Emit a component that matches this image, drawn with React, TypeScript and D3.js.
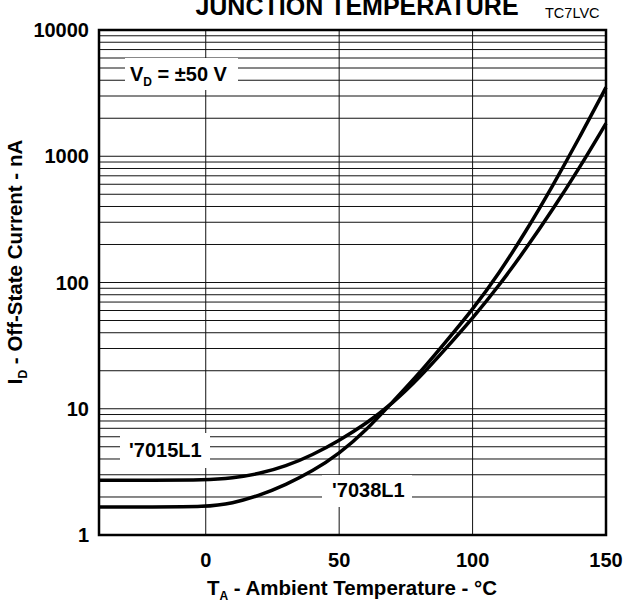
import React from 'react';
import * as d3 from 'd3';

// ambient temperature (°C) and off-state current (nA)
const temps = [-40, -20, 0, 10, 20, 30, 40, 50, 60, 70, 80, 90, 100, 110, 120, 130, 140, 150];
const id7015 = [2.72, 2.72, 2.72, 2.82, 3.05, 3.5, 4.3, 5.6, 7.6, 11.0, 17.5, 30, 52, 95, 185, 377, 805, 1820];
const id7038 = [1.67, 1.67, 1.67, 1.78, 2.05, 2.5, 3.2, 4.4, 6.7, 11.3, 19, 34, 61, 119, 254, 582, 1396, 3510];

const xTicks = [0, 50, 100, 150];
const yTicks = [1, 10, 100, 1000, 10000];
const xGrid = [0, 50, 100];

const FONT = '"Liberation Sans", Arial, Helvetica, sans-serif';

const left = 99;
const right = 606;
const top = 30;
const bottom = 535;

export default function App() {
  const x = d3.scaleLinear().domain([-40, 150]).range([left, right]);
  const y = d3.scaleLog().domain([1, 10000]).range([bottom, top]);

  const line = d3.line<[number, number]>()
    .x(d => x(d[0]))
    .y(d => y(d[1]))
    .curve(d3.curveBasis);

  const series = [id7015, id7038].map(vals => temps.map((t, i) => [t, vals[i]] as [number, number]));

  // horizontal grid: 1..9 in every decade
  const hGrid: number[] = [];
  for (let k = 0; k < 4; k++) {
    for (let m = 1; m <= 9; m++) {
      const v = m * Math.pow(10, k);
      if (v > 1) hGrid.push(v);
    }
  }

  const boxes = [
    { x0: 125, y0: 58, x1: 238, y1: 90 },
    { x0: 120, y0: 433, x1: 210, y1: 468 },
    { x0: 322, y0: 475, x1: 412, y1: 507 },
  ];

  return (
    <svg
      width={628}
      height={603}
      style={{ position: 'absolute', left: 0, top: 0, background: '#fff' }}
      fontFamily={FONT}
    >
      <rect x={0} y={0} width={628} height={603} fill="#fff" />

      <g stroke="#111" strokeWidth={1} fill="none">
        {hGrid.map(v => (
          <line key={'h' + v} x1={left} x2={right} y1={y(v)} y2={y(v)} />
        ))}
        {xGrid.map(v => (
          <line key={'v' + v} x1={x(v)} x2={x(v)} y1={top} y2={bottom} />
        ))}
      </g>

      {boxes.map((b, i) => (
        <rect key={'b' + i} x={b.x0} y={b.y0} width={b.x1 - b.x0} height={b.y1 - b.y0} fill="#fff" />
      ))}

      <g fill="none" stroke="#000" strokeWidth={3.5} strokeLinejoin="round">
        {series.map((s, i) => (
          <path key={'s' + i} d={line(s) || ''} />
        ))}
      </g>

      <rect x={left} y={top} width={right - left} height={bottom - top} fill="none" stroke="#000" strokeWidth={2.5} />

      <g fontWeight="bold" fontSize={20} fill="#000">
        <text x={130} y={81}>
          V<tspan fontSize={12} dy={5}>D</tspan><tspan dy={-5}> = ±50 V</tspan>
        </text>
        <text x={129} y={457}>'7015L1</text>
        <text x={332} y={497}>'7038L1</text>
      </g>

      <g fontWeight="bold" fontSize={20} fill="#000">
        {yTicks.map(v => (
          <text key={'yt' + v} x={89} y={y(v)} dy="0.36em" textAnchor="end">{v}</text>
        ))}
        {xTicks.map(v => (
          <text key={'xt' + v} x={x(v)} y={567} textAnchor="middle">{v}</text>
        ))}
      </g>

      <g fontWeight="bold" fontSize={20.5} fill="#000">
        <text x={352} y={595} textAnchor="middle">
          T<tspan fontSize={12} dy={5}>A</tspan><tspan dy={-5}> - Ambient Temperature - °C</tspan>
        </text>
        <text transform="translate(22,262) rotate(-90)" textAnchor="middle">
          I<tspan fontSize={12} dy={5}>D</tspan><tspan dy={-5}> - Off-State Current - nA</tspan>
        </text>
      </g>

      <text x={357} y={15} textAnchor="middle" fontWeight="bold" fontSize={25}>JUNCTION TEMPERATURE</text>
      <text x={545} y={18} fontSize={14.5}>TC7LVC</text>
    </svg>
  );
}
